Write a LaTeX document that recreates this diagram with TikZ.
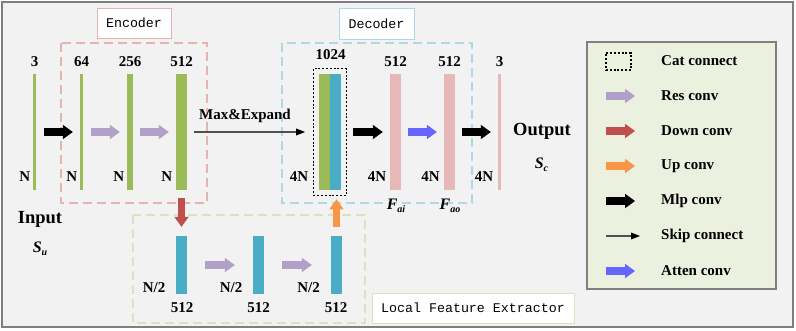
\documentclass[tikz,border=0pt]{standalone}
\usepackage{fontspec}
\setmainfont{Liberation Serif}
\newfontfamily\monofont{Liberation Mono}
\usetikzlibrary{arrows.meta,fit,calc}

\definecolor{bgc}{HTML}{F2F2F2}
\definecolor{framec}{HTML}{7F7F7F}
\definecolor{grn}{HTML}{9BBB59}
\definecolor{blu}{HTML}{4BACC6}
\definecolor{pnk}{HTML}{E6B9B8}
\definecolor{purp}{HTML}{B1A0C7}
\definecolor{redc}{HTML}{C0504D}
\definecolor{orng}{HTML}{F79646}
\definecolor{attn}{HTML}{6666FF}
\definecolor{encc}{HTML}{E6B4B0}
\definecolor{decc}{HTML}{B0D8E4}
\definecolor{lfec}{HTML}{D7E4BD}
\definecolor{legc}{HTML}{EBF1DE}
\definecolor{skipc}{HTML}{505050}

\tikzset{
  bar/.style={rectangle, inner sep=0pt, minimum height=116pt, draw=none},
  lbar/.style={bar, fill=blu, minimum width=11pt, minimum height=58pt},
  lbl/.style={font=\fontsize{15}{18}\selectfont\bfseries, inner sep=0pt},
  biglbl/.style={font=\fontsize{18.5}{22}\selectfont\bfseries, inner sep=0pt},
  blockarrow/.style={line width=7.5pt, -{Triangle[length=10pt,width=14.5pt,line width=0pt]}},
  mlparrow/.style={blockarrow, draw=black},
  resarrow/.style={blockarrow, draw=purp},
  downarrow/.style={blockarrow, draw=redc},
  uparrow/.style={blockarrow, draw=orng},
  attnarrow/.style={blockarrow, draw=attn},
  skiparrow/.style={line width=1.2pt, draw=skipc, -{Triangle[length=9pt,width=7pt,line width=0pt,fill=black]}},
  groupbox/.style={line width=2.2pt, dash pattern=on 9pt off 5pt},
  titlebox/.style={fill=white, line width=1pt, inner sep=0pt, font=\monofont\fontsize{13.3}{15}\selectfont},
  catbox/.style={draw=black, line width=1.3pt, dash pattern=on 2pt off 1.8pt}
}

\begin{document}
\begin{tikzpicture}[x=1pt,y=-1pt]
\useasboundingbox (0,0) rectangle (796,330);
% frame and background
\draw[fill=bgc, draw=framec, line width=2pt] (2,1.5) rectangle (793,327);

% group boxes
\draw[groupbox, draw=encc] (61,43) rectangle (207,203);
\draw[groupbox, draw=decc] (282,43) rectangle (472,203);
\draw[groupbox, draw=lfec] (133,215) rectangle (365,323);

\node[titlebox, draw=encc, minimum width=74pt, minimum height=30pt] (enctitle) at (134,23) {Encoder};
\node[titlebox, draw=decc, minimum width=75pt, minimum height=31pt] (dectitle) at (376.5,23.5) {Decoder};
\node[titlebox, draw=lfec, minimum width=202pt, minimum height=30pt] (lfetitle) at (473,308) {Local Feature Extractor};

% encoder bars
\node[bar, fill=grn, minimum width=3pt] (e0) at (34.5,132) {};
\node[bar, fill=grn, minimum width=3pt] (e1) at (81.5,132) {};
\node[bar, fill=grn, minimum width=6pt] (e2) at (130,132) {};
\node[bar, fill=grn, minimum width=11pt] (e3) at (181.5,132) {};

% concatenated features
\node[bar, fill=grn, minimum width=11pt] (cg) at (324.5,132) {};
\node[bar, fill=blu, minimum width=11pt] (cb) at (335.5,132) {};
\node[catbox, inner xsep=5.5pt, inner ysep=5pt, fit=(cg)(cb)] (cat) {};

% decoder bars
\node[bar, fill=pnk, minimum width=11pt] (d1) at (395.5,132) {};
\node[bar, fill=pnk, minimum width=11pt] (d2) at (449.5,132) {};
\node[bar, fill=pnk, minimum width=3pt] (d3) at (499.5,132) {};

% local feature extractor bars
\node[lbar] (l1) at (181.5,265) {};
\node[lbar] (l2) at (258.5,265) {};
\node[lbar] (l3) at (336.5,265) {};

% channel labels
\node[lbl] (c0) at (34.5,62) {3};
\node[lbl] (c1) at (81.5,62) {64};
\node[lbl] (c2) at (130,62) {256};
\node[lbl] (c3) at (181.5,62) {512};
\node[lbl] (c4) at (330.5,55) {1024};
\node[lbl] (c5) at (395.5,62) {512};
\node[lbl] (c6) at (449.5,62) {512};
\node[lbl] (c7) at (499.5,62) {3};

% point count labels
\node[lbl, anchor=east] (n0) at (30.5,177) {N};
\node[lbl, anchor=east] (n1) at (77.5,177) {N};
\node[lbl, anchor=east] (n2) at (124.5,177) {N};
\node[lbl, anchor=east] (n3) at (172.5,177) {N};
\node[lbl, anchor=east] (n4) at (308.5,177) {4N};
\node[lbl, anchor=east] (n5) at (386.5,177) {4N};
\node[lbl, anchor=east] (n6) at (440,177) {4N};
\node[lbl, anchor=east] (n7) at (493.5,177) {4N};

\node[lbl, anchor=east] (m1) at (165.5,288) {N/2};
\node[lbl, anchor=east] (m2) at (242.5,288) {N/2};
\node[lbl, anchor=east] (m3) at (320,288) {N/2};
\node[lbl] (k1) at (182,307.5) {512};
\node[lbl] (k2) at (258.5,307.5) {512};
\node[lbl] (k3) at (336,307.5) {512};

% feature names
\node[lbl, font=\fontsize{16}{18}\selectfont\bfseries\itshape] (fai) at (396,206) {F\raisebox{-0.35ex}{\fontsize{10}{10}\selectfont ai}};
\node[lbl, font=\fontsize{16}{18}\selectfont\bfseries\itshape] (fao) at (450,206) {F\raisebox{-0.35ex}{\fontsize{10}{10}\selectfont ao}};

% input / output
\node[biglbl] (inp) at (40,219) {Input};
\node[lbl, font=\fontsize{16}{18}\selectfont\bfseries\itshape] (su) at (40,249) {S\raisebox{-0.4ex}{\fontsize{10}{10}\selectfont u}};
\node[biglbl] (outp) at (542,131.5) {Output};
\node[lbl, font=\fontsize{16}{18}\selectfont\bfseries\itshape] (sc) at (541.5,165) {S\raisebox{-0.4ex}{\fontsize{10}{10}\selectfont c}};

% encoder connections
\draw[mlparrow, shorten <=8pt, shorten >=7pt] (e0) -- (e1);
\draw[resarrow, shorten <=8pt, shorten >=7pt] (e1) -- (e2);
\draw[resarrow, shorten <=7pt, shorten >=7pt] (e2) -- (e3);
\draw[skiparrow, shorten <=7pt, shorten >=7.5pt] (e3) -- (cat);
\node[lbl] (maxexp) at (245,116) {Max\&Expand};

% decoder connections
\draw[mlparrow, shorten <=5.5pt, shorten >=7pt] (cat) -- (d1);
\draw[attnarrow, shorten <=7pt, shorten >=7pt] (d1) -- (d2);
\draw[mlparrow, shorten <=7pt, shorten >=7pt] (d2) -- (d3);

% local feature extractor connections
\draw[downarrow, shorten <=8pt, shorten >=9pt] (e3) -- (l1);
\draw[resarrow, shorten <=18pt, shorten >=18pt] (l1) -- (l2);
\draw[resarrow, shorten <=18pt, shorten >=19pt] (l2) -- (l3);
\draw[uparrow, shorten <=9pt, shorten >=3.5pt] (l3.north) -- (l3.north |- cat.south);

% legend
\draw[fill=legc, draw=framec, line width=1.5pt] (587,42) rectangle (776,289);
\node[catbox, line width=1.2pt, minimum width=25pt, minimum height=17pt, inner sep=0pt] (kcat) at (618.5,61.5) {};
\foreach \i/\yy in {res/96, down/131, up/166, mlp/201, skip/236, attn/271} {
  \coordinate (k\i a) at (606,\yy);
  \coordinate (k\i b) at (635,\yy);
}
\coordinate (kskipb) at (640,236);
\draw[resarrow] (kresa) -- (kresb);
\draw[downarrow] (kdowna) -- (kdownb);
\draw[uparrow] (kupa) -- (kupb);
\draw[mlparrow] (kmlpa) -- (kmlpb);
\draw[skiparrow] (kskipa) -- (kskipb);
\draw[attnarrow] (kattna) -- (kattnb);

\node[lbl, anchor=west] (t1) at (661,61) {Cat connect};
\node[lbl, anchor=west] (t2) at (661,96) {Res conv};
\node[lbl, anchor=west] (t3) at (661,131) {Down conv};
\node[lbl, anchor=west] (t4) at (661,166) {Up conv};
\node[lbl, anchor=west] (t5) at (661,201) {Mlp conv};
\node[lbl, anchor=west] (t6) at (661,236) {Skip connect};
\node[lbl, anchor=west] (t7) at (661,271) {Atten conv};
\end{tikzpicture}
\end{document}
